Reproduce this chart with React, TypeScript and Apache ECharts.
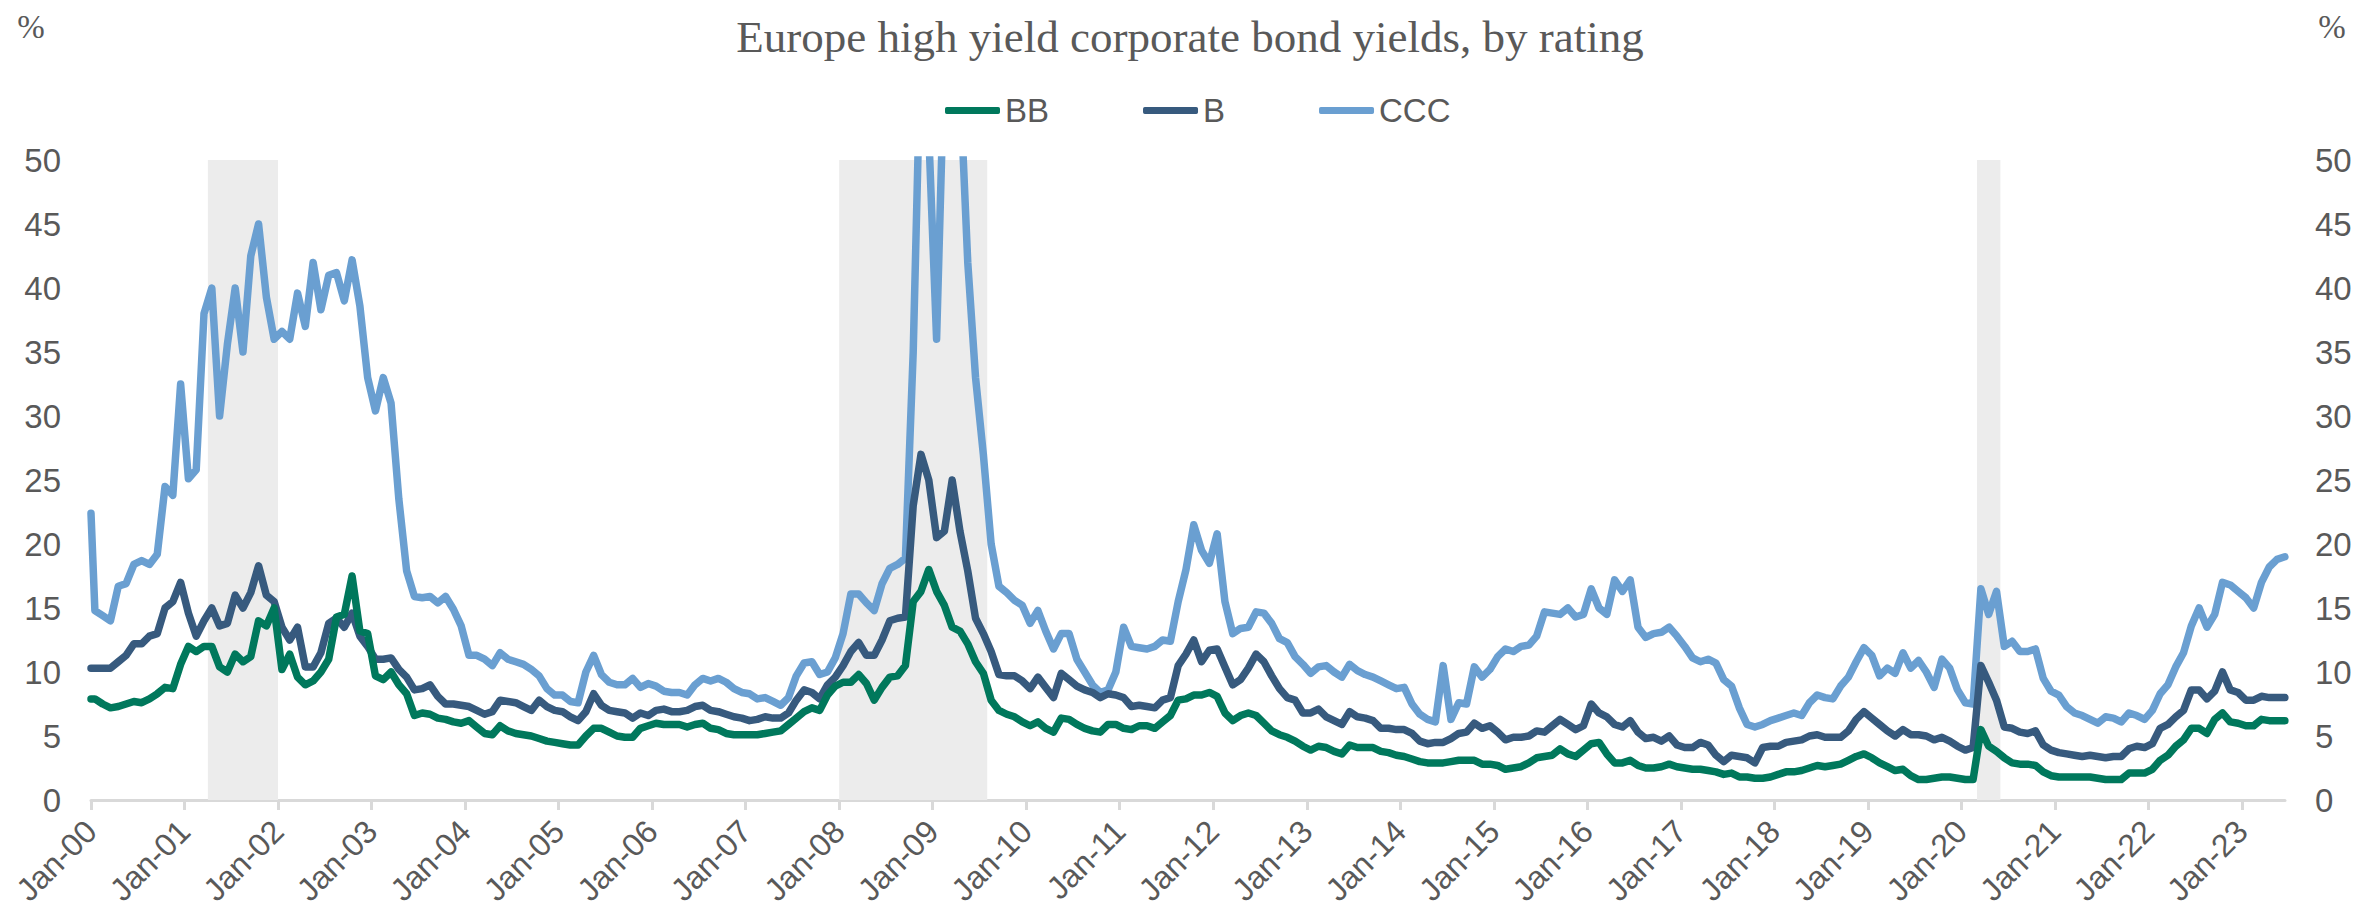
import React, { useEffect, useRef } from 'react';
import * as echarts from 'echarts';

const TITLE = 'Europe high yield corporate bond yields, by rating';
const UNIT = '%';
const START_YEAR = 2000;
const SERIES_NAMES = ['BB', 'B', 'CCC'];
const COLORS = ['#00785C', '#375A7E', '#6A9FD1'];
const X_TICK_LABELS = [
  'Jan-00', 'Jan-01', 'Jan-02', 'Jan-03', 'Jan-04', 'Jan-05', 'Jan-06', 'Jan-07',
  'Jan-08', 'Jan-09', 'Jan-10', 'Jan-11', 'Jan-12', 'Jan-13', 'Jan-14', 'Jan-15',
  'Jan-16', 'Jan-17', 'Jan-18', 'Jan-19', 'Jan-20', 'Jan-21', 'Jan-22', 'Jan-23',
];
const X_MAX = 23.46; // mid-June 2023, in years since Jan 2000
const Y_MIN = 0;
const Y_MAX = 50;
const Y_STEP = 5;

// Shaded recession periods (start month, end month inclusive)
const RECESSIONS = [
  ['2001-04', '2001-12'],
  ['2008-01', '2009-07'],
  ['2020-03', '2020-05'],
];

// Values on the first trading day of Jan 2000 (BB, B, CCC)
const OPENING_VALUES = [7.9, 10.3, 22.4];

// Monthly (mid-month) yields, Jan 2000 .. Jun 2023
const BB = [
  7.9, 7.5, 7.2, 7.3, 7.5, 7.7, 7.6, 7.9, 8.3, 8.8, 8.7, 10.6,
  12.0, 11.6, 12.0, 12.0, 10.4, 10.0, 11.4, 10.8, 11.2, 14.0, 13.6, 15.0,
  10.2, 11.4, 9.6, 9.0, 9.3, 10.0, 11.0, 14.3, 14.5, 17.5, 13.2, 13.0,
  9.7, 9.4, 10.0, 9.0, 8.3, 6.6, 6.8, 6.7, 6.4, 6.3, 6.1, 6.0,
  6.2, 5.7, 5.2, 5.1, 5.8, 5.4, 5.2, 5.1, 5.0, 4.8, 4.6, 4.5,
  4.4, 4.3, 4.3, 5.0, 5.6, 5.6, 5.3, 5.0, 4.9, 4.9, 5.6, 5.8,
  6.0, 5.9, 5.9, 5.9, 5.7, 5.9, 6.0, 5.6, 5.5, 5.2, 5.1, 5.1,
  5.1, 5.1, 5.2, 5.3, 5.4, 5.9, 6.4, 6.9, 7.2, 7.0, 8.2, 8.9,
  9.2, 9.2, 9.8, 9.1, 7.8, 8.8, 9.6, 9.7, 10.5, 15.5, 16.3, 18.0,
  16.3, 15.2, 13.5, 13.2, 12.2, 10.8, 9.9, 7.8, 7.0, 6.7, 6.5, 6.1,
  5.8, 6.1, 5.6, 5.3, 6.4, 6.3, 5.9, 5.6, 5.4, 5.3, 5.9, 5.9,
  5.6, 5.5, 5.8, 5.8, 5.6, 6.1, 6.6, 7.8, 7.9, 8.2, 8.2, 8.4,
  8.1, 6.8, 6.2, 6.6, 6.8, 6.6, 6.0, 5.4, 5.1, 4.9, 4.6, 4.2,
  3.9, 4.2, 4.1, 3.8, 3.6, 4.3, 4.1, 4.1, 4.1, 3.8, 3.7, 3.5,
  3.4, 3.2, 3.0, 2.9, 2.9, 2.9, 3.0, 3.1, 3.1, 3.1, 2.8, 2.8,
  2.7, 2.4, 2.5, 2.6, 2.9, 3.3, 3.4, 3.5, 4.0, 3.6, 3.4, 3.9,
  4.4, 4.5, 3.6, 2.9, 2.9, 3.1, 2.7, 2.5, 2.5, 2.6, 2.8, 2.6,
  2.5, 2.4, 2.4, 2.3, 2.2, 2.0, 2.1, 1.8, 1.8, 1.7, 1.7, 1.8,
  2.0, 2.2, 2.2, 2.3, 2.5, 2.7, 2.6, 2.7, 2.8, 3.1, 3.4, 3.6,
  3.3, 2.9, 2.6, 2.3, 2.4, 1.9, 1.6, 1.6, 1.7, 1.8, 1.8, 1.7,
  1.6, 1.6, 5.5, 4.2, 3.8, 3.3, 2.9, 2.8, 2.8, 2.7, 2.2, 1.9,
  1.8, 1.8, 1.8, 1.8, 1.8, 1.7, 1.6, 1.6, 1.6, 2.1, 2.1, 2.1,
  2.4, 3.1, 3.5, 4.2, 4.7, 5.6, 5.6, 5.2, 6.3, 6.8, 6.1, 6.0,
  5.8, 5.8, 6.3, 6.2, 6.2, 6.2,
];

const B = [
  10.3, 10.3, 10.3, 10.8, 11.3, 12.2, 12.2, 12.8, 13.0, 15.0, 15.5, 17.0,
  14.6, 12.8, 14.0, 15.0, 13.6, 13.8, 16.0, 15.0, 16.2, 18.3, 16.0, 15.5,
  13.5, 12.5, 13.5, 10.4, 10.4, 11.5, 13.8, 14.2, 13.5, 14.6, 12.8, 12.0,
  11.0, 11.0, 11.1, 10.2, 9.6, 8.6, 8.7, 9.0, 8.1, 7.5, 7.5, 7.4,
  7.3, 7.0, 6.7, 6.9, 7.8, 7.7, 7.6, 7.3, 7.0, 7.8, 7.3, 7.0,
  6.9, 6.5, 6.2, 6.9, 8.3, 7.4, 7.0, 6.9, 6.8, 6.4, 6.8, 6.6,
  7.0, 7.1, 6.9, 6.9, 7.0, 7.3, 7.4, 7.0, 6.9, 6.7, 6.5, 6.4,
  6.2, 6.3, 6.5, 6.4, 6.4, 6.8, 7.8, 8.6, 8.4, 7.9, 9.0, 9.6,
  10.5, 11.6, 12.3, 11.3, 11.3, 12.5, 14.0, 14.2, 14.3, 23.0, 27.0, 25.0,
  20.5, 21.0, 25.0, 21.0, 17.9, 14.2, 13.0, 11.6, 9.8, 9.7, 9.7, 9.3,
  8.7, 9.6, 8.8, 8.0, 9.9, 9.4, 8.9, 8.6, 8.4, 8.0, 8.3, 8.2,
  8.0, 7.3, 7.4, 7.3, 7.2, 7.8, 8.0, 10.5, 11.4, 12.5, 10.8, 11.7,
  11.8, 10.4, 9.0, 9.4, 10.3, 11.4, 10.8, 9.7, 8.7, 8.0, 7.8, 6.8,
  6.8, 7.1, 6.5, 6.2, 5.9, 6.9, 6.5, 6.4, 6.2, 5.6, 5.6, 5.5,
  5.5, 5.2, 4.6, 4.4, 4.5, 4.5, 4.8, 5.2, 5.3, 6.0, 5.6, 5.8,
  5.3, 4.7, 4.9, 4.9, 5.0, 5.4, 5.3, 5.8, 6.3, 5.9, 5.5, 5.8,
  7.5, 6.8, 6.5, 5.9, 5.7, 6.2, 5.3, 4.8, 4.9, 4.6, 5.0, 4.3,
  4.1, 4.1, 4.5, 4.3, 3.5, 3.0, 3.5, 3.4, 3.3, 2.9, 4.1, 4.2,
  4.2, 4.5, 4.6, 4.7, 5.0, 5.1, 4.9, 4.9, 4.9, 5.4, 6.3, 6.9,
  6.4, 5.9, 5.4, 5.0, 5.5, 5.1, 5.1, 5.0, 4.7, 4.9, 4.6, 4.2,
  3.9, 4.1, 10.5, 9.2, 7.8, 5.7, 5.6, 5.3, 5.2, 5.4, 4.3, 3.9,
  3.7, 3.6, 3.5, 3.4, 3.5, 3.4, 3.3, 3.4, 3.4, 4.0, 4.2, 4.1,
  4.4, 5.6, 5.9, 6.5, 7.0, 8.6, 8.6, 7.9, 8.5, 10.0, 8.6, 8.4,
  7.8, 7.8, 8.1, 8.0, 8.0, 8.0,
];

const CCC = [
  14.8, 14.4, 14.0, 16.7, 16.9, 18.4, 18.7, 18.4, 19.2, 24.5, 23.8, 32.5,
  25.1, 25.8, 38.0, 40.0, 30.0, 35.6, 40.0, 35.0, 42.5, 45.0, 39.3, 36.0,
  36.6, 36.0, 39.6, 37.0, 42.0, 38.3, 41.0, 41.2, 39.0, 42.2, 38.6, 33.0,
  30.4, 33.0, 31.0, 23.5, 17.9, 15.9, 15.8, 15.9, 15.4, 15.9, 14.9, 13.6,
  11.3, 11.3, 11.0, 10.5, 11.5, 11.0, 10.8, 10.6, 10.2, 9.7, 8.7, 8.2,
  8.2, 7.7, 7.6, 10.0, 11.3, 9.8, 9.2, 9.0, 9.0, 9.5, 8.8, 9.1,
  8.9, 8.5, 8.4, 8.4, 8.2, 9.0, 9.5, 9.3, 9.5, 9.2, 8.7, 8.4,
  8.3, 7.9, 8.0, 7.7, 7.4, 8.0, 9.7, 10.7, 10.8, 9.8, 10.0, 11.1,
  13.0, 16.1, 16.1, 15.4, 14.8, 16.9, 18.1, 18.4, 18.9, 35.0, 60.0, 52.0,
  36.0, 58.0, 60.0, 56.0, 42.0, 33.0, 27.0, 20.0, 16.7, 16.2, 15.6, 15.2,
  13.8, 14.8, 13.2, 11.8, 13.0, 13.0, 11.0, 10.0, 9.0, 8.4, 8.6, 10.0,
  13.5, 12.0, 11.9, 11.8, 12.0, 12.5, 12.4, 15.5, 18.0, 21.5, 19.5, 18.5,
  20.8, 15.5, 13.0, 13.4, 13.5, 14.7, 14.6, 13.8, 12.6, 12.3, 11.2, 10.6,
  9.9, 10.4, 10.5, 10.0, 9.6, 10.6, 10.1, 9.8, 9.6, 9.3, 9.0, 8.7,
  8.8, 7.5, 6.7, 6.3, 6.1, 10.5, 6.3, 7.6, 7.5, 10.4, 9.6, 10.2,
  11.2, 11.8, 11.6, 12.0, 12.1, 12.8, 14.7, 14.6, 14.5, 15.0, 14.3, 14.5,
  16.5, 15.0, 14.5, 17.2, 16.3, 17.2, 13.5, 12.7, 13.0, 13.1, 13.5, 12.8,
  12.0, 11.1, 10.8, 11.0, 10.7, 9.4, 8.9, 7.2, 5.9, 5.7, 5.9, 6.2,
  6.4, 6.6, 6.8, 6.6, 7.6, 8.2, 8.0, 7.9, 8.9, 9.6, 10.8, 11.9,
  11.3, 9.7, 10.3, 9.9, 11.5, 10.3, 10.9, 10.0, 8.8, 11.0, 10.3, 8.6,
  7.6, 7.5, 16.5, 14.5, 16.3, 12.0, 12.4, 11.6, 11.6, 11.8, 9.5, 8.5,
  8.2, 7.3, 6.8, 6.6, 6.3, 6.0, 6.5, 6.4, 6.1, 6.8, 6.6, 6.3,
  7.0, 8.3, 9.0, 10.4, 11.5, 13.6, 15.0, 13.5, 14.5, 17.0, 16.8, 16.3,
  15.8, 15.0, 17.0, 18.2, 18.8, 19.0,
];

const SANS = "'Liberation Sans', Arial, sans-serif";
const SERIF = "'Liberation Serif', 'Times New Roman', serif";
const TEXT_GREY = '#595959';
const AXIS_GREY = '#D9D9D9';

function monthToYears(s: string): number {
  const [y, m] = s.split('-').map(Number);
  return y - START_YEAR + (m - 1) / 12;
}

export default function App() {
  const ref = useRef<HTMLDivElement>(null);

  useEffect(() => {
    document.body.style.margin = '0';
    if (!ref.current) return;
    const chart = echarts.init(ref.current, undefined, { renderer: 'svg' });
    const values = [BB, B, CCC];
    const toData = (arr: number[], open: number) => [
      [0, open],
      ...arr.map((v, i) => [(i + 0.5) / 12, v]),
    ];
    const bands = RECESSIONS.map(([s, e]) => [
      { xAxis: monthToYears(s) },
      { xAxis: monthToYears(e) + 1 / 12 },
    ]);
    const tickValues = X_TICK_LABELS.map((_, i) => i);

    const lineSeries = [2, 1, 0].map((idx) => ({
      name: SERIES_NAMES[idx],
      type: 'line',
      data: toData(values[idx], OPENING_VALUES[idx]),
      showSymbol: false,
      symbol: 'none',
      z: 3,
      clip: true,
      lineStyle: { color: COLORS[idx], width: 7.5, join: 'round', cap: 'round' },
      itemStyle: { color: COLORS[idx] },
      emphasis: { disabled: true },
    }));

    const yAxisBase = {
      type: 'value',
      min: Y_MIN,
      max: Y_MAX,
      interval: Y_STEP,
      axisLine: { show: false },
      axisTick: { show: false },
      splitLine: { show: false },
      axisLabel: { fontSize: 33, color: TEXT_GREY, fontFamily: SANS, margin: 30 },
    };

    const unitText = (x: number) => ({
      type: 'text',
      x,
      y: 27,
      style: {
        text: UNIT,
        fill: TEXT_GREY,
        fontSize: 33,
        fontFamily: SERIF,
        align: 'center',
        verticalAlign: 'middle',
        textAlign: 'center',
        textVerticalAlign: 'middle',
      },
    });

    chart.setOption({
      animation: false,
      backgroundColor: '#FFFFFF',
      grid: { left: 91, right: 74, top: 160, bottom: 119, containLabel: false, outerBoundsMode: 'none' },
      legend: {
        data: SERIES_NAMES,
        left: 940,
        top: 89,
        icon: 'roundRect',
        itemWidth: 55,
        itemHeight: 7,
        itemGap: 94,
        selectedMode: false,
        textStyle: { fontSize: 33, color: TEXT_GREY, fontFamily: SANS },
      },
      xAxis: {
        type: 'value',
        min: 0,
        max: X_MAX,
        axisLine: { show: true, lineStyle: { color: AXIS_GREY, width: 3 } },
        axisTick: {
          show: true,
          customValues: tickValues,
          length: 10,
          lineStyle: { color: AXIS_GREY, width: 3 },
        },
        axisLabel: {
          customValues: tickValues,
          formatter: (v: number) => X_TICK_LABELS[Math.round(v)] ?? '',
          rotate: 45,
          margin: 26,
          fontSize: 32,
          color: TEXT_GREY,
          fontFamily: SANS,
        },
        splitLine: { show: false },
      },
      yAxis: [
        { ...yAxisBase, position: 'left' },
        { ...yAxisBase, position: 'right' },
      ],
      series: [
        {
          name: 'Recession',
          type: 'line',
          data: [],
          z: 1,
          silent: true,
          markArea: {
            silent: true,
            itemStyle: { color: '#ECECEC' },
            data: bands,
          },
        },
        ...lineSeries,
      ],
      graphic: [
        {
          type: 'text',
          x: 1190,
          y: 37,
          style: {
            text: TITLE,
            fill: TEXT_GREY,
            fontSize: 45,
            fontFamily: SERIF,
            align: 'center',
            verticalAlign: 'middle',
            textAlign: 'center',
            textVerticalAlign: 'middle',
          },
        },
        unitText(31),
        unitText(2332),
      ],
    });
    return () => chart.dispose();
  }, []);

  return <div ref={ref} style={{ width: 2359, height: 919 }} />;
}
